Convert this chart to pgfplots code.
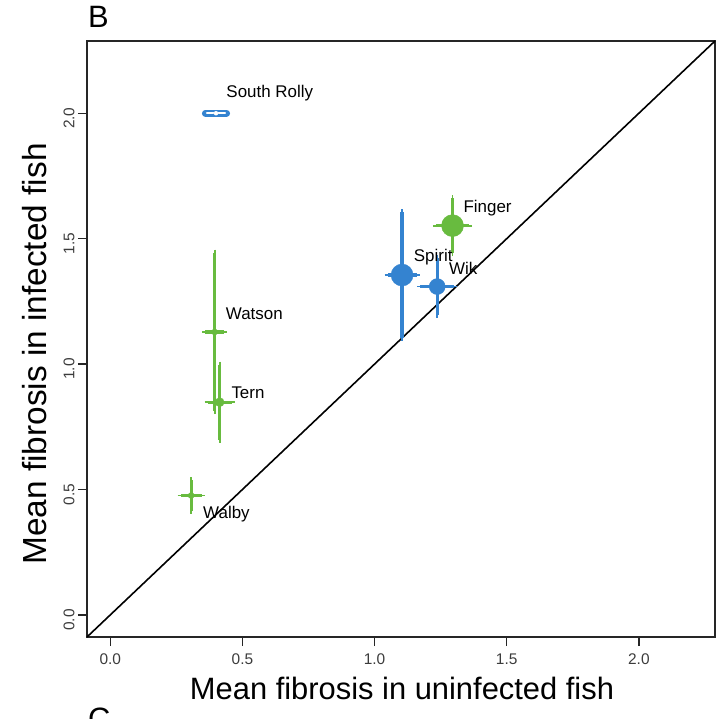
\documentclass[border=0pt]{standalone}
\usepackage{pgfplots}
\pgfplotsset{compat=1.18}
\usepackage{fontspec}
\setmainfont{Liberation Sans}

\definecolor{popblue}{RGB}{52,131,208}
\definecolor{popgreen}{RGB}{104,187,63}
\definecolor{tickgray}{RGB}{60,60,60}

\pgfplotsset{
  popgreen style/.style={popgreen, only marks, mark=*,
    mark options={draw=popgreen, fill=popgreen, line width=0.4bp},
    error bars/x dir=both, error bars/x explicit,
    error bars/y dir=both, error bars/y explicit,
    error bars/error bar style={line width=3.2bp, popgreen},
    error bars/error mark options={line width=1.8bp, mark size=3bp, popgreen}},
  popblue style/.style={popblue, only marks, mark=*,
    mark options={draw=popblue, fill=popblue, line width=0.4bp},
    error bars/x dir=both, error bars/x explicit,
    error bars/y dir=both, error bars/y explicit,
    error bars/error bar style={line width=3.2bp, popblue},
    error bars/error mark options={line width=1.8bp, mark size=3bp, popblue}},
}

\begin{document}
\begin{tikzpicture}
\begin{axis}[
  at={(0,0)}, anchor=south west,
  scale only axis,
  width=628bp, height=596bp,
  xmin=-0.088, xmax=2.288, ymin=-0.088, ymax=2.288,
  axis line style={line width=1.4bp, black!85},
  xtick={0,0.5,1,1.5,2}, ytick={0,0.5,1,1.5,2},
  xticklabels={0.0,0.5,1.0,1.5,2.0},
  yticklabels={0.0,0.5,1.0,1.5,2.0},
  xtick pos=lower, ytick pos=left,
  tick align=outside, major tick length=9bp,
  tick style={line width=1.3bp, black!85},
  ticklabel style={font=\fontsize{15.5}{18}\selectfont, text=tickgray},
  xticklabel style={yshift=-4bp},
  yticklabel style={rotate=90, anchor=south, xshift=-5bp},
  xlabel={Mean fibrosis in uninfected fish},
  ylabel={Mean fibrosis in infected fish},
  xlabel style={font=\fontsize{31}{36}\selectfont, at={(axis description cs:0.5016,-0.1057)}, anchor=base},
  ylabel style={font=\fontsize{33.5}{38}\selectfont, at={(axis description cs:-0.064,0.475)}, anchor=base},
  clip=false,
]
% reference line: equal fibrosis in both groups
\addplot[black, line width=1.6bp, mark=none] coordinates {(-0.088,-0.088) (2.288,2.288)};

% South Rolly: horizontal interval drawn as an outlined bar
\addplot[popblue, only marks, mark=none,
  error bars/.cd, x dir=both, x explicit,
  error bar style={line width=7bp, line cap=round, popblue}, error mark=none]
  coordinates {(0.400,2.000) +- (0.040,0)};
\addplot[white, only marks, mark=none,
  error bars/.cd, x dir=both, x explicit,
  error bar style={line width=2.5bp, line cap=round, white}, error mark=none]
  coordinates {(0.400,2.000) +- (0.034,0)};

% Watson
\addplot[popgreen style, mark size=3bp] coordinates {(0.395,1.128) +- (0.036,0.316)};
% Tern
\addplot[popgreen style, mark size=4.5bp] coordinates {(0.414,0.848) +- (0.046,0.150)};
% Walby
\addplot[popgreen style, mark size=3bp] coordinates {(0.306,0.476) +- (0.040,0.060)};
% Spirit
\addplot[popblue style, mark size=11bp] coordinates {(1.104,1.355) +- (0.055,0.250)};
% Wik
\addplot[popblue style, mark size=8bp] coordinates {(1.237,1.309) +- (0.065,0.113)};
% Finger
\addplot[popgreen style, mark size=11bp] coordinates {(1.295,1.552) +- (0.063,0.110)};

% population names
\node[anchor=west, inner sep=0pt, font=\fontsize{17}{20}\selectfont] at (axis cs:0.439,2.080) {South Rolly};
\node[anchor=west, inner sep=0pt, font=\fontsize{17}{20}\selectfont] at (axis cs:1.336,1.623) {Finger};
\node[anchor=west, inner sep=0pt, font=\fontsize{17}{20}\selectfont] at (axis cs:1.148,1.428) {Spirit};
\node[anchor=west, inner sep=0pt, font=\fontsize{17}{20}\selectfont] at (axis cs:1.281,1.380) {Wik};
\node[anchor=west, inner sep=0pt, font=\fontsize{17}{20}\selectfont] at (axis cs:0.437,1.199) {Watson};
\node[anchor=west, inner sep=0pt, font=\fontsize{17}{20}\selectfont] at (axis cs:0.458,0.885) {Tern};
\node[anchor=west, inner sep=0pt, font=\fontsize{17}{20}\selectfont] at (axis cs:0.351,0.400) {Walby};
\end{axis}

% panel letters
\node[anchor=base west, inner sep=0pt, font=\fontsize{31}{35}\selectfont] at (1bp,609bp) {B};
\node[anchor=base west, inner sep=0pt, font=\fontsize{31}{35}\selectfont] at (1bp,-92bp) {C};

\pgfresetboundingbox
\path[use as bounding box] (-87bp,-82bp) rectangle (632bp,637bp);
\end{tikzpicture}
\end{document}
